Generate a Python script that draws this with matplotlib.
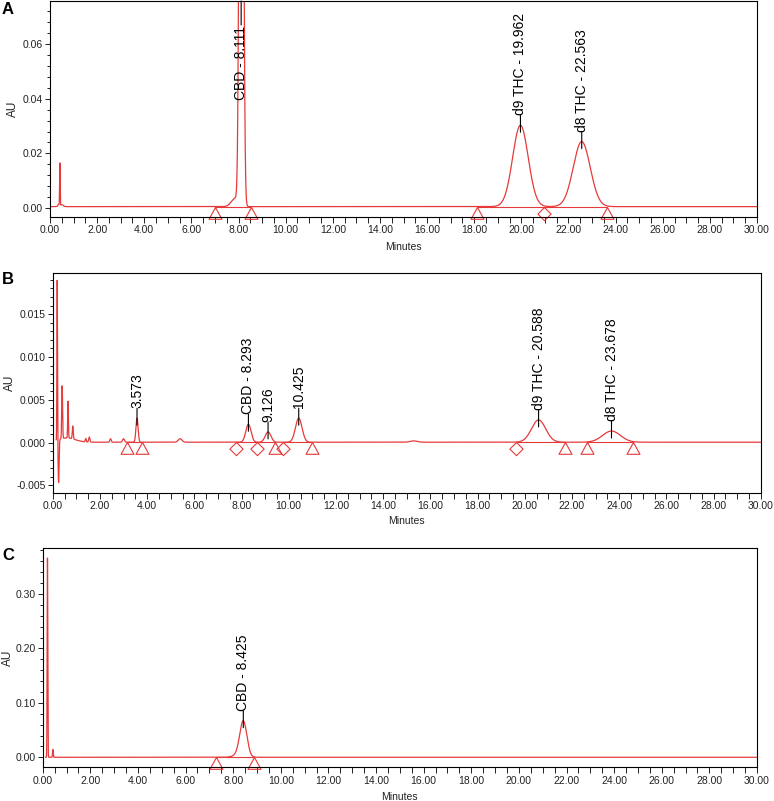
import numpy as np
import matplotlib.pyplot as plt
from matplotlib.ticker import MultipleLocator, FormatStrFormatter
from matplotlib.transforms import offset_copy

plt.rcParams['font.family'] = ['Liberation Sans', 'DejaVu Sans']

RED = '#e63a3a'

# panel A - standard mix (peak table: time, height, width)
a_start, a_base = 0.07, 0.0005
a_rt = [0.36, 0.42, 0.50, 7.85, 8.12, 19.962, 22.563]
a_h = [0.0008, 0.0158, 0.0007, 0.0030, 0.40, 0.0298, 0.0238]
a_w = [0.03, 0.012, 0.06, 0.16, 0.068, 0.33, 0.36]
a_tri = [7.0, 8.55, 18.1, 23.65]
a_dia = [20.95]
a_seg = [(7.0, 8.55), (18.1, 23.65)]
a_lab = [(8.111, 'CBD - 8.111'), (19.962, 'd9 THC - 19.962'), (22.563, 'd8 THC - 22.563')]

# panel B - sample extract
b_start, b_base = 0.15, 0.00005
b_rt = [0.19, 0.25, 0.40, 0.65, 0.85, 0.60, 1.40, 1.55, 2.45, 3.0, 3.573, 5.4,
        8.293, 9.126, 10.425, 15.3, 20.588, 23.678]
b_h = [0.0187, -0.0050, 0.0062, 0.0043, 0.0015, 0.0005, 0.0004, 0.0006, 0.0004, 0.0004,
       0.0028, 0.0004, 0.0021, 0.0012, 0.0028, 0.00015, 0.0026, 0.0013]
b_w = [0.012, 0.02, 0.018, 0.015, 0.02, 0.35, 0.02, 0.025, 0.03, 0.04, 0.045, 0.08,
       0.11, 0.12, 0.14, 0.15, 0.30, 0.38]
b_tri = [3.13, 3.77, 9.43, 10.97, 21.70, 22.63, 24.60]
b_dia = [7.77, 8.64, 9.77, 19.63]
b_seg = [(3.13, 3.77), (7.77, 9.43), (9.77, 10.97), (19.63, 21.70), (22.63, 24.60)]
b_lab = [(3.573, '3.573'), (8.293, 'CBD - 8.293'), (9.126, '9.126'), (10.425, '10.425'),
         (20.588, 'd9 THC - 20.588'), (23.678, 'd8 THC - 23.678')]

# panel C - CBD oil
c_start, c_base = 0.12, 0.0
c_rt = [0.20, 0.43, 8.15, 8.425]
c_h = [0.366, 0.0145, 0.003, 0.066]
c_w = [0.013, 0.015, 0.2, 0.15]
c_tri = [7.28, 8.87]
c_dia = []
c_seg = [(7.28, 8.87)]
c_lab = [(8.425, 'CBD - 8.425')]

panels = [
    ('A', [50, 1, 757, 217], (-0.0033, 0.0758), 0.02, 0.004, '%.2f', -0.053, -0.139,
     a_start, a_base, a_rt, a_h, a_w, a_tri, a_dia, a_seg, a_lab, 10),
    ('B', [52.7, 273, 760.7, 493], (-0.00588, 0.0198), 0.005, 0.001, '%.3f', -0.061, -0.127,
     b_start, b_base, b_rt, b_h, b_w, b_tri, b_dia, b_seg, b_lab, 279),
    ('C', [42.7, 548.3, 757, 767.3], (-0.0184, 0.384), 0.10, 0.02, '%.2f', -0.0486, -0.136,
     c_start, c_base, c_rt, c_h, c_w, c_tri, c_dia, c_seg, c_lab, 555),
]

W, H = 774, 801
fig = plt.figure(figsize=(W / 100, H / 100), dpi=100)

tri_marker = [(0, 0), (-0.55, -1), (0.55, -1), (0, 0)]
dia_marker = [(0, 0), (0.5, -0.5), (0, -1), (-0.5, -0.5), (0, 0)]

for (letter, box, ylim, ymaj, ymin, yfmt, aux, minx, start, base,
     rt, hh, ww, tri, dia, seg, labs, ly) in panels:
    l, t, r, b = box
    ax = fig.add_axes([l / W, 1 - b / H, (r - l) / W, (b - t) / H])

    time = np.arange(start, 30.0, 0.004)
    sig = np.full_like(time, base)
    for p, h, w in zip(rt, hh, ww):
        sig += h * np.exp(-0.5 * ((time - p) / w) ** 2)
    ax.plot(time, sig, color=RED, lw=0.9)

    for s0, s1 in seg:
        ax.plot([s0, s1], [base, base], color=RED, lw=0.8)
    ax.plot(tri, [base] * len(tri), ls='none', marker=tri_marker, ms=17,
            mfc='none', mec=RED, mew=0.8, clip_on=False)
    ax.plot(dia, [base] * len(dia), ls='none', marker=dia_marker, ms=19,
            mfc='none', mec=RED, mew=0.8, clip_on=False)

    ax.set_xlim(0, 30)
    ax.set_ylim(*ylim)
    ax.xaxis.set_major_locator(MultipleLocator(2))
    ax.xaxis.set_minor_locator(MultipleLocator(0.5))
    ax.xaxis.set_major_formatter(FormatStrFormatter('%.2f'))
    ax.yaxis.set_major_locator(MultipleLocator(ymaj))
    ax.yaxis.set_minor_locator(MultipleLocator(ymin))
    ax.yaxis.set_major_formatter(FormatStrFormatter(yfmt))
    ax.tick_params(which='both', direction='out', width=0.7, labelsize=7.5,
                   pad=1.5, colors='#222222')
    ax.tick_params(axis='x', which='both', length=4.5)
    ax.tick_params(axis='y', which='major', length=3.5)
    ax.tick_params(axis='y', which='minor', length=2.5)
    for sp in ax.spines.values():
        sp.set_linewidth(0.8)

    ax.set_xlabel('Minutes', fontsize=7.5, color='#222222')
    ax.xaxis.set_label_coords(0.5, minx)
    ax.xaxis.label.set_va('center')
    ax.set_ylabel('AU', fontsize=8.5, color='#222222')
    ax.yaxis.set_label_coords(aux, 0.5)
    ax.yaxis.label.set_va('center')

    top = ylim[1]
    for p, txt in labs:
        near = np.abs(time - p) < 0.15
        apex = sig[near].max()
        if apex > top:
            ax.annotate('', xy=(p, top), xytext=(0, -24), textcoords='offset pixels',
                        arrowprops=dict(arrowstyle='-', color='k', lw=0.8,
                                        shrinkA=0, shrinkB=0))
            ax.annotate(txt, xy=(p, top), xytext=(0, -25), textcoords='offset pixels',
                        rotation=90, ha='center', va='top', fontsize=10)
        else:
            lo = offset_copy(ax.transData, fig=fig, y=-7, units='dots')
            ax.annotate('', xy=(p, apex), xycoords=lo, xytext=(0, 17),
                        textcoords='offset pixels',
                        arrowprops=dict(arrowstyle='-', color='k', lw=0.8,
                                        shrinkA=0, shrinkB=0))
            ax.annotate(txt, xy=(p, apex), xytext=(0, 10), textcoords='offset pixels',
                        rotation=90, ha='center', va='bottom', fontsize=10)

    fig.text(2 / W, 1 - ly / H, letter, fontsize=12, fontweight='bold',
             ha='left', va='center')

fig.savefig('out.png', dpi=100)
